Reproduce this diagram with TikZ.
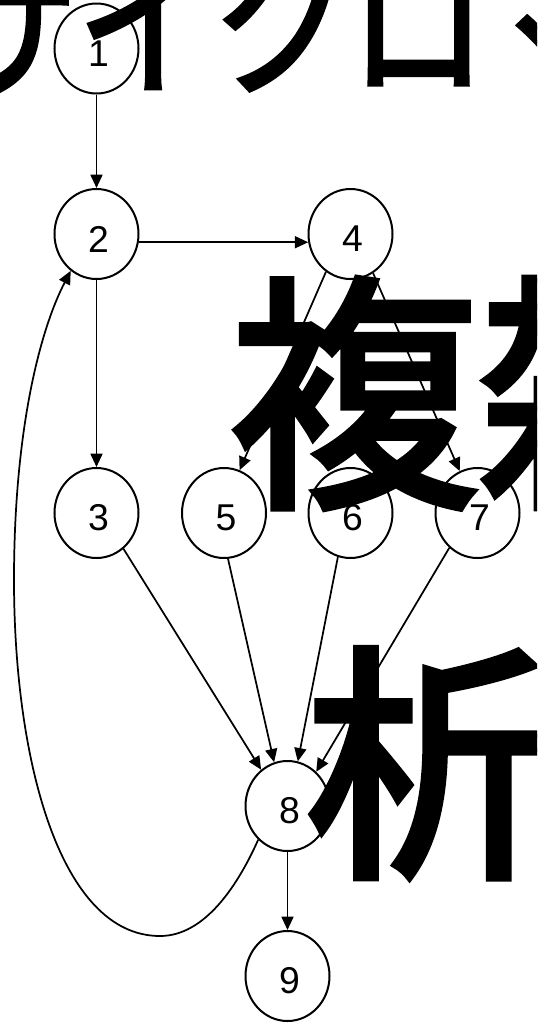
\documentclass[tikz,border=0pt]{standalone}
\usepackage{fontspec}
\setmainfont{Liberation Sans}
\newfontfamily\cjk{Noto Sans CJK JP}[FakeBold=3]
\usetikzlibrary{arrows.meta,shapes.geometric}
\begin{document}
\begin{tikzpicture}[x=0.75pt,y=-0.75pt,
  state/.style={ellipse, draw, line width=1.5pt, fill=white, inner sep=0pt,
    minimum width=63pt, minimum height=67.5pt},
  num/.style={font=\fontsize{28pt}{28pt}\selectfont, xshift=1.5pt, yshift=-3.75pt},
  edge/.style={line width=1.3pt, -{Triangle[length=10pt,width=9pt]}},
  big/.style={anchor=base west, inner sep=0pt, font=\cjk\fontsize{187pt}{187pt}\selectfont},
  title/.style={anchor=base west, inner sep=0pt, font=\cjk\fontsize{103pt}{103pt}\selectfont}]
\path[use as bounding box] (0,0) rectangle (537,1025);
\clip (0,0) rectangle (537,1025);
\coordinate (p1) at (96.5,48.5);
\coordinate (p2) at (96.5,234);
\coordinate (p4) at (350.5,234);
\coordinate (p3) at (96.5,513);
\coordinate (p5) at (224,513);
\coordinate (p6) at (350.5,513);
\coordinate (p7) at (477.5,513);
\coordinate (p8) at (287.5,806);
\coordinate (p9) at (287.5,976);
\node[state, label={[num]center:1}] (n1) at (p1) {};
\node[state, label={[num]center:2}] (n2) at (p2) {};
\node[state, label={[num]center:4}] (n4) at (p4) {};
\node[state, label={[num]center:3}] (n3) at (p3) {};
\node[state, label={[num]center:5}] (n5) at (p5) {};
\node[state, label={[num]center:6}] (n6) at (p6) {};
\node[state, label={[num]center:7}] (n7) at (p7) {};
\node[state, label={[num]center:8}] (n8) at (p8) {};
\node[state, label={[num]center:9}] (n9) at (p9) {};
\draw[edge] (n1.south) -- (n2.north);
\draw[edge] (n2.-11) -- (n4.191);
\draw[edge] (n2.south) -- (n3.north);
\draw[edge] (n4.237) -- (n5.70);
\draw[edge] (n4.300) -- (n7.113);
\draw[edge] (n3.307) -- (n8.126);
\draw[edge] (n5.275) -- (n8.107);
\draw[edge] (n6.254) -- (n8.77);
\draw[edge] (n7.231) -- (n8.50);
\draw[edge] (n8.south) -- (n9.north);
\draw[edge] (n8.229) .. controls (238,885) and (205,936) .. (160,936)
  .. controls (60,936) and (14,760) .. (14,580)
  .. controls (14,430) and (40,330) .. (n2.235);
% big overlay text
\node[title] (t1) at (-60,83) {\scalebox{1}[1.18]{サイクロマ}};
\node[big] (t2) at (229,488) {複雑};
\node[big] (t3) at (305,858) {析};
\end{tikzpicture}
\end{document}
